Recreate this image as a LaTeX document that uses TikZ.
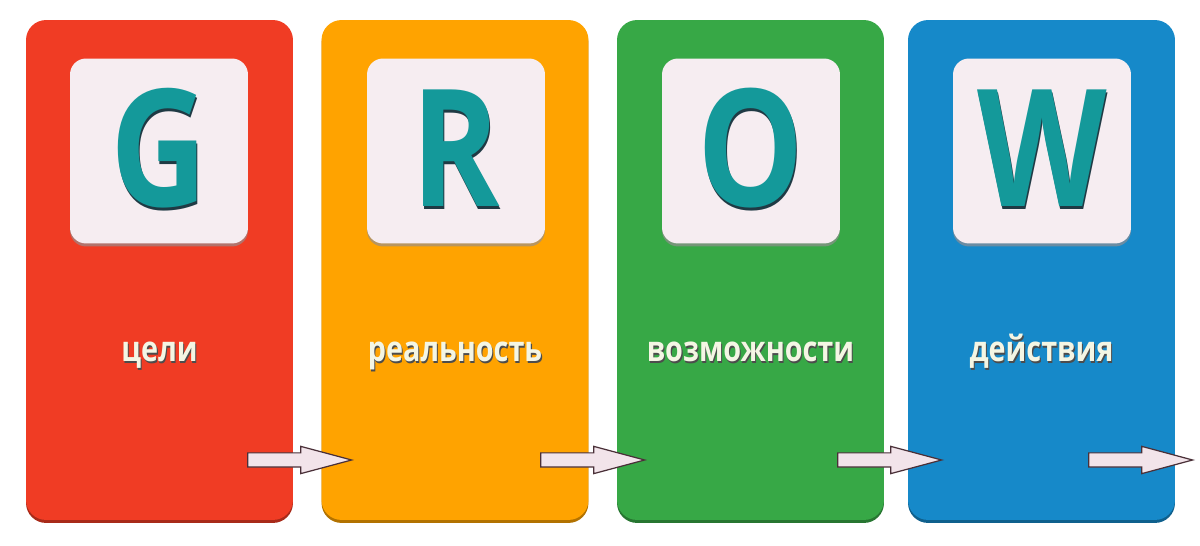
\documentclass[tikz,border=0pt]{standalone}
\usepackage{fontspec}
\usepackage{tikz}
\usetikzlibrary{shapes.arrows,shadows}

\newfontfamily\cardfont[FakeStretch=0.82]{Open Sans}

\definecolor{goalred}{HTML}{F03C24}
\definecolor{realorange}{HTML}{FFA300}
\definecolor{optgreen}{HTML}{37A846}
\definecolor{actblue}{HTML}{1689C9}
\definecolor{tilewhite}{HTML}{F6EDF1}
\definecolor{letterteal}{HTML}{14999A}
\definecolor{letterdark}{HTML}{1F3A44}
\definecolor{wordcream}{HTML}{F4F6E4}
\definecolor{arrowpink}{HTML}{F2E4EA}
\definecolor{arrowline}{HTML}{4A3038}

\begin{document}
\begin{tikzpicture} [x = 0.02cm, y = -0.02cm,
	card/.style = {rectangle,
		rounded corners = 0.4cm,
		minimum width = 5.34cm,
		minimum height = 10cm,
		inner sep = 0pt,
		fill = #1,
		general shadow = {shadow yshift = -0.06cm, fill = #1!70!black}},
	tile/.style = {rectangle,
		rounded corners = 0.32cm,
		minimum width = 3.56cm,
		minimum height = 3.7cm,
		inner sep = 0pt,
		fill = tilewhite,
		general shadow = {shadow yshift = -0.06cm, fill = #1!55!black!60!tilewhite}},
	letter/.style = {anchor = base,
		inner sep = 0pt,
		text = letterteal,
		font = \cardfont\bfseries\fontsize{93}{93}\selectfont},
	lettershade/.style = {letter, text = letterdark},
	stagetext/.style = {anchor = base,
		inner sep = 0pt,
		text = wordcream,
		font = \cardfont\bfseries\fontsize{20}{20}\selectfont},
	stageshade/.style = {stagetext, text = black!70},
	flow/.style = {single arrow,
		anchor = tip,
		minimum height = 2.08cm,
		text height = 0.13cm,
		text depth = 0.13cm,
		text width = 0pt,
		single arrow head extend = 0.13cm,
		single arrow tip angle = 30,
		inner sep = 0pt,
		fill = arrowpink,
		draw = arrowline,
		line width = 0.7pt}]

	\useasboundingbox (0,0) rectangle (1200,546);

	% cards
	\node (goal) at (159.5,270) [card = goalred] {};
	\node (reality) at (455,270) [card = realorange] {};
	\node (options) at (750.5,270) [card = optgreen] {};
	\node (will) at (1041.5,270) [card = actblue] {};

	% letter tiles
	\node (tileG) at (159,151) [tile = goalred] {};
	\node (tileR) at (456,151) [tile = realorange] {};
	\node (tileO) at (751,151) [tile = optgreen] {};
	\node (tileW) at (1042,151) [tile = actblue] {};

	\node (shadeG) at ([xshift = 0.6pt, yshift = -1.2pt]tileG.center |- 0,207) [lettershade] {G};
	\node (letG) at (tileG.center |- 0,207) [letter] {G};
	\node (shadeR) at ([xshift = 0.6pt, yshift = -1.2pt]tileR.center |- 0,207) [lettershade] {R};
	\node (letR) at (tileR.center |- 0,207) [letter] {R};
	\node (shadeO) at ([xshift = 0.6pt, yshift = -1.2pt]tileO.center |- 0,207) [lettershade] {O};
	\node (letO) at (tileO.center |- 0,207) [letter] {O};
	\node (shadeW) at ([xshift = 0.6pt, yshift = -1.2pt]tileW.center |- 0,207) [lettershade] {W};
	\node (letW) at (tileW.center |- 0,207) [letter] {W};

	% stage words
	\node (shadeGoal) at ([xshift = 0.6pt, yshift = -1pt]goal.center |- 0,362) [stageshade] {цели};
	\node (wordGoal) at (goal.center |- 0,362) [stagetext] {цели};
	\node (shadeReality) at ([xshift = 0.6pt, yshift = -1pt]reality.center |- 0,362) [stageshade] {реальность};
	\node (wordReality) at (reality.center |- 0,362) [stagetext] {реальность};
	\node (shadeOptions) at ([xshift = 0.6pt, yshift = -1pt]options.center |- 0,362) [stageshade] {возможности};
	\node (wordOptions) at (options.center |- 0,362) [stagetext] {возможности};
	\node (shadeWill) at ([xshift = 0.6pt, yshift = -1pt]will.center |- 0,362) [stageshade] {действия};
	\node (wordWill) at (will.center |- 0,362) [stagetext] {действия};

	% arrows between the cards
	\node (flowGR) at (354,460) [flow] {};
	\node (flowRO) at (647,460) [flow] {};
	\node (flowOW) at (944,460) [flow] {};
	\node (flowWend) at (1195,460) [flow] {};

\end{tikzpicture}
\end{document}
